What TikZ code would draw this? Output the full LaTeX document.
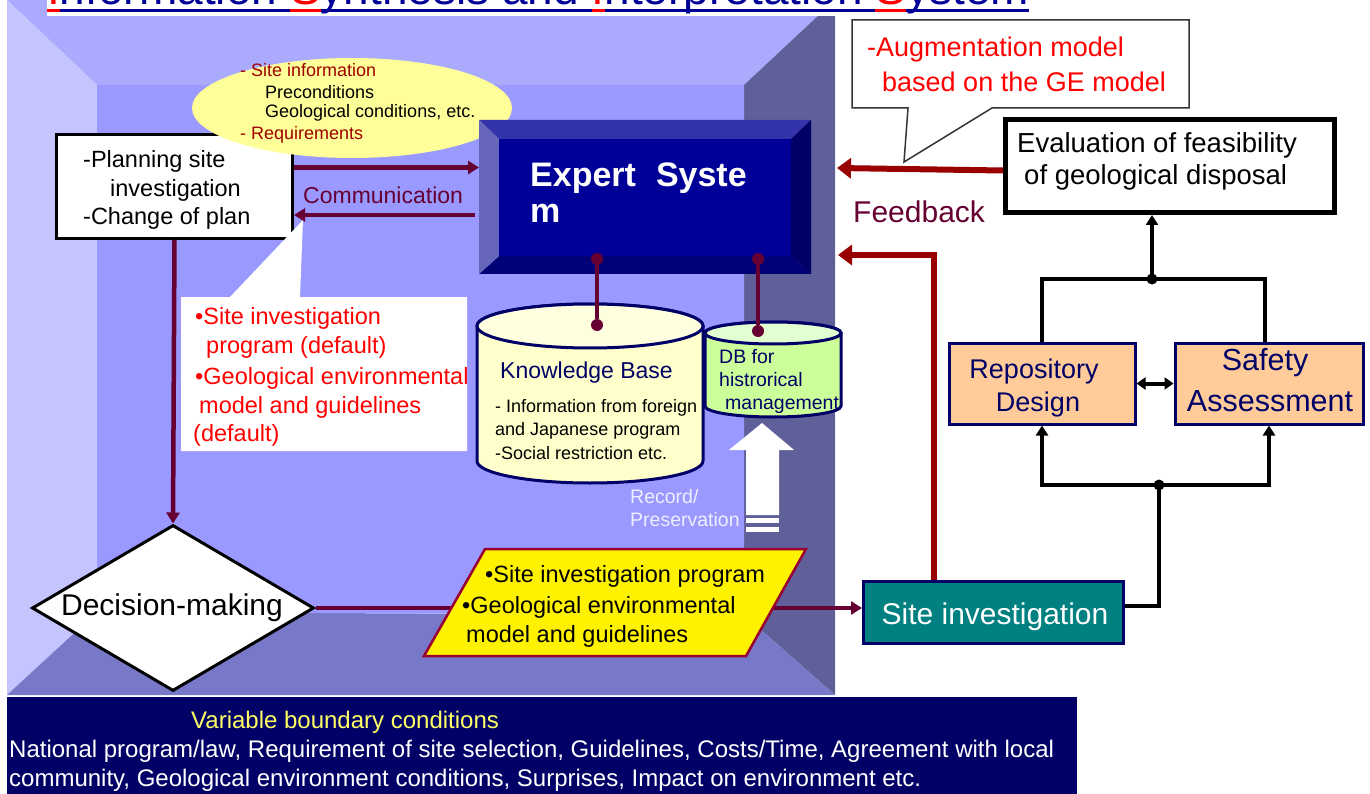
\documentclass[tikz,border=0pt]{standalone}
\usepackage{fontspec}
\setmainfont{Liberation Sans}
\usetikzlibrary{arrows.meta,shapes.geometric}
\newcommand{\pxfont}[2]{\fontsize{#1}{#2}\selectfont}

\definecolor{leftwall}{HTML}{C4C4FF}
\definecolor{ceilwall}{HTML}{AAAAFF}
\definecolor{backwall}{HTML}{9999FF}
\definecolor{rightwall}{HTML}{5F5F99}
\definecolor{floorwall}{HTML}{7878C8}
\definecolor{expface}{HTML}{000099}
\definecolor{exptop}{HTML}{3333AA}
\definecolor{expleft}{HTML}{6666BB}
\definecolor{expright}{HTML}{000066}
\definecolor{expbottom}{HTML}{000077}
\definecolor{maroon}{HTML}{660033}
\definecolor{fbred}{HTML}{990000}
\definecolor{navy}{HTML}{000066}
\definecolor{tealbox}{HTML}{008080}
\definecolor{peach}{HTML}{FFCC99}
\definecolor{ellyellow}{HTML}{FFFF99}
\definecolor{kbfill}{HTML}{FFFFCC}
\definecolor{kbtop}{HTML}{FFFFE0}
\definecolor{dbfill}{HTML}{CCFF99}
\definecolor{dbtop}{HTML}{E2FFD2}
\definecolor{titleblue}{HTML}{000099}
\definecolor{barblue}{HTML}{000066}
\definecolor{baryellow}{HTML}{FFFF66}
\definecolor{parborder}{HTML}{990033}
\definecolor{infored}{HTML}{A00000}
\definecolor{callgray}{HTML}{333333}
\definecolor{recwhite}{HTML}{EEEEFF}

\begin{document}
\begin{tikzpicture}[x=1pt,y=-1pt,
  lbl/.style={inner sep=0pt, anchor=west},
  conn/.style={draw=maroon, line width=4.5pt},
  mtip/.style={-{Triangle[length=11pt,width=13pt]}},
  fbarrow/.style={draw=fbred, line width=6pt, -{Triangle[length=14pt,width=20pt]}},
  blk/.style={draw=black, line width=4pt},
  btip/.style={-{Triangle[length=10pt,width=12pt]}},
  mdot/.style={circle, fill=maroon, inner sep=0pt, minimum size=12pt},
  jdot/.style={circle, fill=black, inner sep=0pt, minimum size=11pt},
  peachbox/.style={draw=navy, line width=3pt, fill=peach, inner sep=0pt,
    minimum height=81pt},
]
\useasboundingbox (0,0) rectangle (1370,794);
\clip (0,0) rectangle (1370,794);

% ---- the ISIS room: ceiling, side walls, floor and back wall
\fill[ceilwall] (7,0) -- (835,0) -- (744,85) -- (97,85) -- cycle;
\fill[leftwall] (7,0) -- (97,85) -- (97,612) -- (7,695) -- cycle;
\fill[rightwall] (835,0) -- (744,85) -- (744,615) -- (835,695) -- cycle;
\fill[floorwall] (7,695) -- (97,612) -- (744,615) -- (835,695) -- cycle;
\fill[backwall] (97,85) -- (744,85) -- (744,615) -- (97,612) -- cycle;

% ---- title (runs off the top edge)
\fill[white] (47,0) rectangle (1031,16);
\node[anchor=base west, inner sep=0pt, text=titleblue, font=\pxfont{46}{50}] (title) at (47,5)
  {\textcolor{red}{I}nformation \textcolor{red}{S}ynthesis and \textcolor{red}{I}nterpretation \textcolor{red}{S}ystem};
\fill[titleblue] (47,9) rectangle (1029,12);
\fill[red] (47,9) rectangle (60,12);
\fill[red] (290,9) rectangle (321,12);
\fill[red] (592,9) rectangle (605,12);
\fill[red] (875,9) rectangle (906,12);

% ---- planning box
\node[draw=black, line width=3pt, fill=white, minimum width=236pt, minimum height=104pt, inner sep=0pt, anchor=north west] (plan) at (55,133) {};
\node[lbl, font=\pxfont{23.5}{26}] (plan1) at (83,161) {-Planning site};
\node[lbl, font=\pxfont{23.5}{26}] (plan2) at (110,190) {investigation};
\node[lbl, font=\pxfont{23.5}{26}] (plan3) at (83,218) {-Change of plan};

% ---- input information bubble
\node[ellipse, fill=ellyellow, minimum width=320pt, minimum height=100pt, inner sep=0pt] (info) at (352,108) {};
\node[lbl, text=infored, font=\pxfont{18}{21}] (info1) at (240,70) {- Site information};
\node[lbl, font=\pxfont{18}{21}] (info2) at (265,92) {Preconditions};
\node[lbl, font=\pxfont{18}{21}] (info3) at (265,113) {Geological conditions, etc.};
\node[lbl, text=infored, font=\pxfont{18}{21}] (info4) at (240,135) {- Requirements};

% ---- Expert System (bevelled block)
\node[minimum width=332pt, minimum height=154pt, inner sep=0pt, anchor=north west] (expert) at (479,120) {};
\fill[exptop] (479,120) -- (811,120) -- (791,139) -- (499,139) -- cycle;
\fill[expright] (811,120) -- (811,274) -- (791,256) -- (791,139) -- cycle;
\fill[expbottom] (811,274) -- (479,274) -- (499,256) -- (791,256) -- cycle;
\fill[expleft] (479,274) -- (479,120) -- (499,139) -- (499,256) -- cycle;
\fill[expface] (499,139) rectangle (791,256);
\node[anchor=base west, inner sep=0pt, text=white, font=\pxfont{34}{36}\bfseries] (exptext1) at (530,187) {Expert\hspace{20pt}Syste};
\node[anchor=base west, inner sep=0pt, text=white, font=\pxfont{34}{36}\bfseries] (exptext2) at (530,223) {m};

% ---- communication arrows
\coordinate (commup) at ([yshift=19pt]plan.east);
\coordinate (commdown) at (475,215);
\draw[conn,mtip] (commup) -- (commup -| expert.west);
\draw[conn,mtip] (commdown) -- (commdown -| plan.east);
\node[lbl, text=maroon, font=\pxfont{23}{26}] (commtext) at (303,195) {Communication};

% ---- default program callout
\fill[white] (181,297) -- (230,297) -- (303,220) -- (300,297) -- (467,297) -- (467,451) -- (181,451) -- cycle;
\node[lbl, text=red, font=\pxfont{23.5}{26}] (def1) at (195,318) {•Site investigation};
\node[lbl, text=red, font=\pxfont{23.5}{26}] (def2) at (206,347) {program (default)};
\node[lbl, text=red, font=\pxfont{23.5}{26}] (def3) at (195,378) {•Geological environmental};
\node[lbl, text=red, font=\pxfont{23.5}{26}] (def4) at (199,407) {model and guidelines};
\node[lbl, text=red, font=\pxfont{23.5}{26}] (def5) at (193,435) {(default)};

% ---- knowledge base cylinder
\node[minimum width=226pt, minimum height=180pt, inner sep=0pt, anchor=north west] (kb) at (477,304) {};
\filldraw[fill=kbfill, draw=navy, line width=3pt] (477,326) -- (477,461)
  arc[start angle=180, end angle=360, x radius=113pt, y radius=22pt] -- (703,326)
  arc[start angle=0, end angle=180, x radius=113pt, y radius=22pt] -- cycle;
\filldraw[fill=kbtop, draw=navy, line width=3pt] (590,326) ellipse[x radius=113pt, y radius=22pt];
\node[lbl, text=navy, font=\pxfont{23}{26}] (kbtitle) at (500,373) {Knowledge Base};
\node[lbl, font=\pxfont{18}{21}] (kb1) at (495,408) {- Information from foreign};
\node[lbl, font=\pxfont{18}{21}] (kb2) at (495,431) {and Japanese program};
\node[lbl, font=\pxfont{18}{21}] (kb3) at (495,453) {-Social restriction etc.};

% ---- history database cylinder
\node[minimum width=136pt, minimum height=95pt, inner sep=0pt, anchor=north west] (db) at (705,322) {};
\filldraw[fill=dbfill, draw=navy, line width=3pt] (705,333) -- (705,406)
  arc[start angle=180, end angle=360, x radius=68pt, y radius=11pt] -- (841,333)
  arc[start angle=0, end angle=180, x radius=68pt, y radius=11pt] -- cycle;
\filldraw[fill=dbtop, draw=navy, line width=3pt] (773,333) ellipse[x radius=68pt, y radius=11pt];
\node[lbl, text=navy, font=\pxfont{19.5}{22}] (db1) at (719,357) {DB for};
\node[lbl, text=navy, font=\pxfont{19.5}{22}] (db2) at (719,380) {histrorical};
\node[lbl, text=navy, font=\pxfont{19.5}{22}] (db3) at (725,405) {management};

% ---- links from the expert system to its stores
\node[mdot] (ed1) at (597,259) {};
\node[mdot] (ed2) at (758,259) {};
\node[mdot] (kd) at (597,325) {};
\node[mdot] (dd) at (758,331) {};
\draw[conn] (ed1) -- (kd);
\draw[conn] (ed2) -- (dd);

% ---- record / preservation arrow
\fill[white] (762,423) -- (794,450) -- (779,450) -- (779,515) -- (746,515) -- (746,450) -- (729,450) -- cycle;
\fill[white] (746,518) rectangle (779,523);
\fill[white] (746,527) rectangle (779,532);
\node[lbl, text=recwhite, font=\pxfont{19.5}{22}] (rec1) at (630,497) {Record/};
\node[lbl, text=recwhite, font=\pxfont{19.5}{22}] (rec2) at (630,520) {Preservation};

% ---- decision making
\node[diamond, aspect=1.7, draw=black, line width=3pt, fill=white, minimum width=282pt, minimum height=166pt, inner sep=0pt] (dec) at (173,608) {};
\node[font=\pxfont{30}{32}, inner sep=0pt] (dectext) at (172,608) {Decision-making};
\draw[conn,mtip] (plan.south) -- (dec.north);

% ---- site investigation box
\node[fill=tealbox, draw=navy, line width=2.5pt, minimum width=260pt, minimum height=62pt, inner sep=0pt, anchor=north west] (sinv) at (862,580) {};
\node[text=white, font=\pxfont{30}{32}, inner sep=0pt] (sinvtext) at (995,617) {Site investigation};
\draw[conn,mtip] (dec.east) -- (dec.east -| sinv.west);

% ---- program parallelogram
\filldraw[fill=yellow, draw=parborder, line width=2.5pt] (485,549) -- (806,549) -- (746,656) -- (424,656) -- cycle;
\node[lbl, font=\pxfont{23.5}{26}] (prog1) at (485,576) {•Site investigation program};
\node[lbl, font=\pxfont{23.5}{26}] (prog2) at (462,607) {•Geological environmental};
\node[lbl, font=\pxfont{23.5}{26}] (prog3) at (466,636) {model and guidelines};

% ---- evaluation box and feedback
\node[draw=black, line width=5pt, fill=white, minimum width=329pt, minimum height=93pt, inner sep=0pt, anchor=north west] (eval) at (1003,117) {};
\node[lbl, font=\pxfont{27.5}{30}] (eval1) at (1017,145) {Evaluation of feasibility};
\node[lbl, font=\pxfont{27.5}{30}] (eval2) at (1024,177) {of geological disposal};

\coordinate (fbstart) at ([yshift=-4.5pt]eval.west);
\coordinate (fbend) at (837,168);
\draw[fbarrow] (fbstart) -- (fbend);
\coordinate (sfstart) at (934,580);
\coordinate (sfend) at (838,255);
\draw[fbarrow] (sfstart) |- (sfend);
\node[lbl, text=maroon, font=\pxfont{30}{32}] (fbtext) at (853,212) {Feedback};

% ---- augmentation callout
\filldraw[fill=white, draw=callgray, line width=1.5pt] (852,20) -- (1189,20) -- (1189,108) -- (992,108) -- (904,162) -- (908,108) -- (852,108) -- cycle;
\node[lbl, text=red, font=\pxfont{27}{30}] (aug1) at (867,50) {-Augmentation model};
\node[lbl, text=red, font=\pxfont{27}{30}] (aug2) at (882,82) {based on the GE model};

% ---- design and safety assessment
\node[peachbox, minimum width=186pt] (repo) at (1042,383.5) {};
\node[peachbox, minimum width=188pt] (safe) at (1269,383.5) {};
\node[text=navy, font=\pxfont{27}{30}, inner sep=0pt] (repo1) at (1034,372) {Repository};
\node[text=navy, font=\pxfont{27}{30}, inner sep=0pt] (repo2) at (1038,405) {Design};
\node[text=navy, font=\pxfont{30.5}{33}, inner sep=0pt] (safe1) at (1265,363) {Safety};
\node[text=navy, font=\pxfont{30.5}{33}, inner sep=0pt] (safe2) at (1270,401) {Assessment};
\draw[blk, {Triangle[length=9pt,width=12pt]}-{Triangle[length=9pt,width=12pt]}] (repo.east) -- (safe.west);

\coordinate (jt) at (1152,279);
\coordinate (jb) at (1159,485);
\draw[blk] (repo.north) |- (jt) -| ([xshift=-4pt]safe.north);
\draw[blk,btip] (jt) -- (jt |- eval.south);
\draw[blk] ([yshift=6pt]sinv.east) -| (jb);
\draw[blk,btip] (jb) -| (repo.south);
\draw[blk,btip] (jb) -| (safe.south);
\node[jdot] (jtdot) at (jt) {};
\node[jdot] (jbdot) at (jb) {};

% ---- boundary conditions bar
\node[fill=barblue, minimum width=1070pt, minimum height=97pt, inner sep=0pt, anchor=north west] (bcond) at (7,697) {};
\node[lbl, text=baryellow, font=\pxfont{24}{26}] (bc0) at (191,722) {Variable boundary conditions};
\node[lbl, text=white, font=\pxfont{24}{26}] (bc1) at (9,751) {National program/law, Requirement of site selection, Guidelines, Costs/Time, Agreement with local};
\node[lbl, text=white, font=\pxfont{24}{26}] (bc2) at (9,780) {community, Geological environment conditions, Surprises, Impact on environment etc.};
\end{tikzpicture}
\end{document}
